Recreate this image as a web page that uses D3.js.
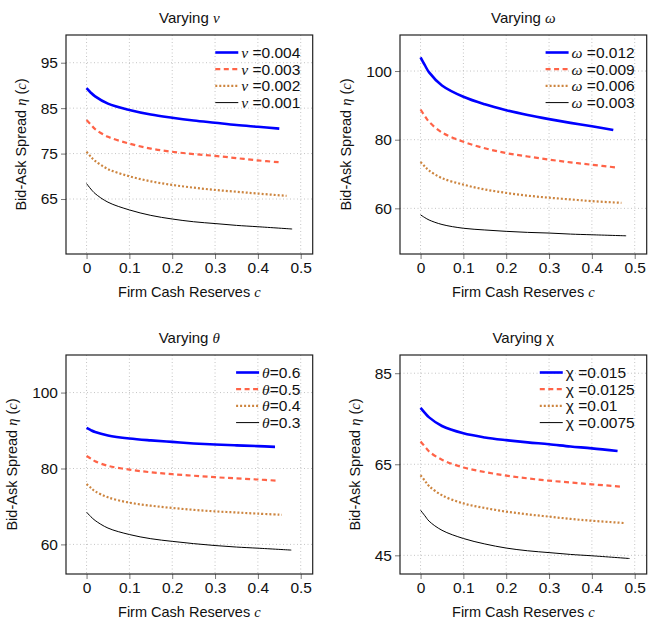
<!DOCTYPE html>
<html>
<head>
<meta charset="utf-8">
<script src="https://cdn.jsdelivr.net/npm/d3@7"></script>
<style>
  body { margin: 0; background: #fff; }
  svg text { font-family: "Liberation Sans", Arial, Helvetica, sans-serif; fill: #111; }
  .math { font-family: "Liberation Serif", "DejaVu Serif", serif; font-style: italic; }
</style>
</head>
<body>
<svg id="chart" width="649" height="620"></svg>
<script>
// ----------- Data --------------------------------
const cGrid  = [0, 0.01, 0.02, 0.05, 0.1, 0.15, 0.2, 0.25, 0.3, 0.35, 0.4];
const xTicks = [0, 0.1, 0.2, 0.3, 0.4, 0.5];

// Varying nu
const nuLabels = ["0.004", "0.003", "0.002", "0.001"];
const nuEnds   = [0.45, 0.45, 0.467, 0.48];
const nu004 = [89.4, 88.4, 87.6, 86.0, 84.6, 83.6, 82.9, 82.3, 81.8, 81.3, 80.9, 80.5];
const nu003 = [82.4, 81.4, 80.4, 78.7, 77.2, 76.1, 75.4, 74.9, 74.5, 74.0, 73.5, 73.1];
const nu002 = [75.4, 74.3, 73.4, 71.6, 70.0, 68.9, 68.1, 67.5, 67.0, 66.6, 66.2, 65.7];
const nu001 = [68.4, 67.2, 66.2, 64.3, 62.6, 61.4, 60.6, 60.0, 59.6, 59.2, 58.9, 58.4];
const nuTicks = [65, 75, 85, 95];

// Varying omega
const omLabels = ["0.012", "0.009", "0.006", "0.003"];
const omEnds   = [0.45, 0.457, 0.469, 0.48];
const om012 = [104.0, 101.7, 99.6, 95.8, 92.5, 90.3, 88.6, 87.2, 86.0, 84.9, 83.9, 82.8];
const om009 = [88.8, 86.9, 85.2, 82.1, 79.4, 77.5, 76.1, 75.1, 74.2, 73.4, 72.7, 71.9];
const om006 = [73.5, 72.2, 71.0, 68.8, 66.9, 65.5, 64.5, 63.7, 63.1, 62.6, 62.1, 61.6];
const om003 = [58.1, 57.3, 56.6, 55.3, 54.2, 53.7, 53.3, 53.0, 52.8, 52.5, 52.3, 52.0];
const omTicks = [60, 80, 100];

// Varying theta
const thLabels = ["0.6", "0.5", "0.4", "0.3"];
const thEnds   = [0.44, 0.443, 0.456, 0.478];
const th6 = [90.7, 90.1, 89.6, 88.7, 87.9, 87.4, 87.0, 86.6, 86.3, 86.1, 85.9, 85.7];
const th5 = [83.3, 82.6, 81.9, 80.7, 79.7, 79.0, 78.5, 78.1, 77.7, 77.4, 77.1, 76.8];
const th4 = [75.9, 74.9, 74.0, 72.4, 71.0, 70.2, 69.6, 69.1, 68.7, 68.4, 68.1, 67.8];
const th3 = [68.5, 67.3, 66.3, 64.3, 62.6, 61.5, 60.8, 60.2, 59.7, 59.3, 59.0, 58.5];
const thTicks = [60, 80, 100];

// Varying chi
const chLabels = ["0.015", "0.0125", "0.01", "0.0075"];
const chEnds   = [0.46, 0.467, 0.474, 0.488];
const ch015  = [77.4, 76.3, 75.3, 73.4, 71.8, 70.9, 70.3, 69.8, 69.4, 68.9, 68.5, 67.9];
const ch0125 = [70.0, 68.9, 67.8, 66.0, 64.3, 63.3, 62.5, 61.9, 61.4, 61.0, 60.6, 60.1];
const ch01   = [62.6, 61.4, 60.2, 58.2, 56.4, 55.4, 54.6, 54.0, 53.5, 53.0, 52.6, 52.1];
const ch0075 = [54.9, 53.7, 52.5, 50.5, 48.7, 47.5, 46.6, 46.0, 45.6, 45.2, 44.9, 44.3];
const chTicks = [45, 65, 85];

// ----------- Layout / style ------------
const W = 246.7, H = 219;
const lineStyles = [
  { color: "#0000ff", width: 2.6, dash: null },
  { color: "#ff6347", width: 2.2, dash: "5,3.5" },
  { color: "#cd853f", width: 2.2, dash: "2,2" },
  { color: "#000000", width: 1,   dash: null }
];

const panels = [
  { sym: "ν", math: true,  eq: " =", labels: nuLabels, ends: nuEnds, series: [nu004, nu003, nu002, nu001],
    yTicks: nuTicks, yDomain: [52.9, 101.1], left: 66,  top: 35 },
  { sym: "ω", math: true,  eq: " =", labels: omLabels, ends: omEnds, series: [om012, om009, om006, om003],
    yTicks: omTicks, yDomain: [46.7, 110.5], left: 400, top: 35 },
  { sym: "θ", math: true,  eq: "=",  labels: thLabels, ends: thEnds, series: [th6, th5, th4, th3],
    yTicks: thTicks, yDomain: [52.2, 109.9], left: 66,  top: 355 },
  { sym: "χ", math: false, eq: " =", labels: chLabels, ends: chEnds, series: [ch015, ch0125, ch01, ch0075],
    yTicks: chTicks, yDomain: [40.9, 89.0], left: 400, top: 355 }
];

const svg = d3.select("#chart");
panels.forEach(drawPanel);

// ----------- One panel ------------
function drawPanel(p) {
  const g = svg.append("g").attr("transform", `translate(${p.left},${p.top})`);

  const x = d3.scaleLinear().domain([-0.048, 0.528]).range([0, W]);
  const y = d3.scaleLinear().domain(p.yDomain).range([H, 0]);

  // dotted grid
  g.selectAll(".gx").data(xTicks).enter().append("line")
    .attr("x1", d => x(d)).attr("x2", d => x(d)).attr("y1", 0).attr("y2", H)
    .attr("stroke", "#c4c4c4").attr("stroke-width", 1).attr("stroke-dasharray", "1,2.5");
  g.selectAll(".gy").data(p.yTicks).enter().append("line")
    .attr("y1", d => y(d)).attr("y2", d => y(d)).attr("x1", 0).attr("x2", W)
    .attr("stroke", "#c4c4c4").attr("stroke-width", 1).attr("stroke-dasharray", "1,2.5");

  // axes
  const xAxis = g.append("g").attr("transform", `translate(0,${H})`)
    .call(d3.axisBottom(x).tickValues(xTicks).tickSize(5).tickPadding(3)
      .tickFormat(d => d === 0 ? "0" : d3.format(".1f")(d)));
  const yAxis = g.append("g")
    .call(d3.axisLeft(y).tickValues(p.yTicks).tickSize(5).tickPadding(3));
  [xAxis, yAxis].forEach(a => {
    a.select(".domain").remove();
    a.selectAll("line").attr("stroke", "#777");
    a.selectAll("text").attr("font-size", 15.5).attr("font-family", null).attr("fill", "#111");
    a.attr("font-family", null).attr("font-size", null);
  });

  // curves
  const line = d3.line().x(d => x(d[0])).y(d => y(d[1])).curve(d3.curveCatmullRom.alpha(0.5));
  p.series.forEach((vals, i) => {
    const cs = cGrid.concat([p.ends[i]]);
    const pts = vals.map((v, k) => [cs[k], v]);
    const st = lineStyles[i];
    g.append("path").datum(pts)
      .attr("d", line).attr("fill", "none")
      .attr("stroke", st.color).attr("stroke-width", st.width)
      .attr("stroke-dasharray", st.dash);
  });

  // frame
  g.append("rect").attr("width", W).attr("height", H)
    .attr("fill", "none").attr("stroke", "#222").attr("stroke-width", 1.2);

  // title
  const t = g.append("text").attr("x", W / 2).attr("y", -12)
    .attr("text-anchor", "middle").attr("font-size", 15);
  t.append("tspan").text("Varying ");
  t.append("tspan").attr("class", p.math ? "math" : null).text(p.sym);

  // x label
  const xl = g.append("text").attr("x", W / 2).attr("y", H + 43)
    .attr("text-anchor", "middle").attr("font-size", 14.5);
  xl.append("tspan").text("Firm Cash Reserves ");
  xl.append("tspan").attr("class", "math").text("c");

  // y label
  const yw = yAxis.node().getBBox().width;
  const yl = g.append("text")
    .attr("transform", `translate(${-yw - 15},${H / 2}) rotate(-90)`)
    .attr("text-anchor", "middle").attr("font-size", 14.5);
  yl.append("tspan").text("Bid-Ask Spread ");
  yl.append("tspan").attr("class", "math").text("η");
  yl.append("tspan").text(" (");
  yl.append("tspan").attr("class", "math").text("c");
  yl.append("tspan").text(")");

  // legend
  const leg = g.append("g");
  const rowH = 16.7;
  p.labels.forEach((lab, i) => {
    const st = lineStyles[i];
    const ry = i * rowH;
    leg.append("line").attr("x1", 0).attr("x2", 23).attr("y1", ry).attr("y2", ry)
      .attr("stroke", st.color).attr("stroke-width", st.width)
      .attr("stroke-dasharray", st.dash);
    const tx = leg.append("text").attr("class", "legtext").attr("x", 26).attr("y", ry)
      .attr("dy", "0.35em").attr("font-size", 15.5);
    tx.append("tspan").attr("class", p.math ? "math" : null).text(p.sym);
    tx.append("tspan").text(p.eq + lab);
  });
  const lw = leg.node().getBBox().width;
  leg.attr("transform", `translate(${W - 12 - lw},17.5)`);
}
</script>
</body>
</html>
